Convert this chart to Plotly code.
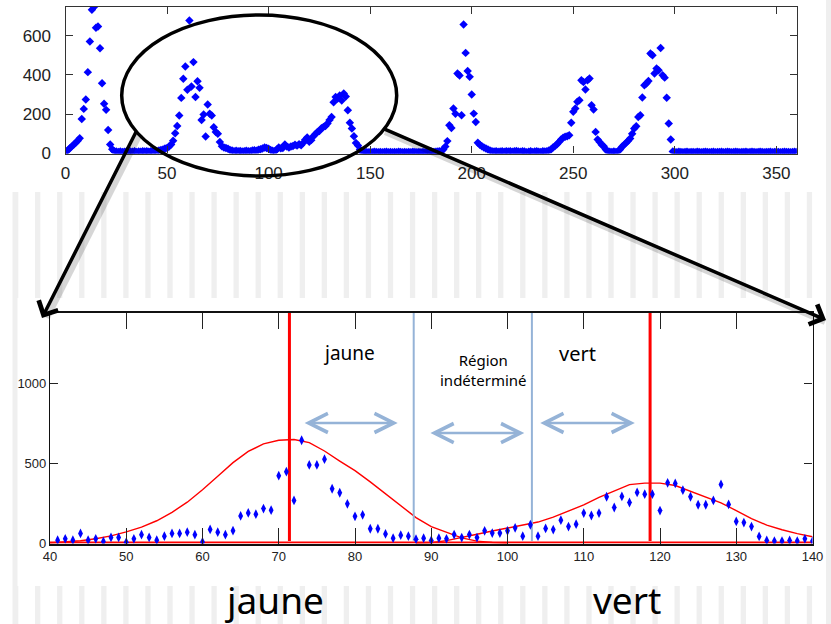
import plotly.graph_objects as go

W, H = 831, 624

# ---------------- data ----------------
top_x = list(range(0, 361))
top_counts = (
    [7, 15, 25, 35, 45, 55, 65, 78, 176, 227, 275, 414, 570, 731, 745, 640, 646, 536, 358, 253,
     222, 120, 46, 22, 12, 10, 8, 10, 8, 9, 10, 8, 10, 9, 11, 8, 10, 9, 12, 10,
     11, 9, 12, 11, 14, 12, 15, 18, 20, 25, 28, 36, 46, 65, 103, 140, 193, 283, 380, 443,
     324, 677, 341, 465, 287, 368, 334, 171, 198, 86, 249, 202, 193, 134, 109, 100, 59, 37, 30, 28,
     24, 18, 15, 12, 14, 11, 13, 10, 12, 14, 11, 12, 15, 17, 14, 19, 22, 25, 30, 28,
     24, 18, 14, 12, 20, 30, 26, 28, 46, 35, 30, 36, 38, 45, 40, 47, 42, 54, 70, 81,
     60, 68, 88, 98, 110, 115, 128, 135, 140, 153, 170, 186, 261, 287, 280, 295, 270, 305, 290, 220,
     156, 127, 88, 54, 41, 20, 8, 7, 8, 6, 8, 7, 9, 8, 7, 8, 6, 8, 9, 7,
     8, 6, 8, 7, 9, 8, 7, 8, 6, 8, 7, 9, 8, 7, 8, 6, 8, 7, 9, 8,
     10, 8, 9, 10, 12, 12, 20, 35, 63, 144, 130, 229, 202, 407, 397, 195, 656, 512, 420, 390,
     300, 203, 160, 55, 45, 37, 30, 25, 20, 15, 12, 10, 12, 9, 10, 12, 9, 11, 10, 12,
     9, 11, 13, 10, 9, 12, 10, 6, 9, 11, 8, 10, 12, 9, 8, 11, 10, 12, 15, 20,
     30, 38, 47, 59, 71, 80, 85, 88, 93, 156, 212, 229, 263, 271, 373, 364, 326, 373, 382, 246,
     224, 110, 71, 59, 45, 37, 20, 12, 9, 8, 10, 8, 12, 20, 34, 45, 54, 65, 76, 101,
     127, 139, 186, 195, 285, 347, 356, 369, 509, 500, 407, 432, 424, 537, 398, 386, 284, 153, 71, 10,
     8, 7, 9, 8, 7, 8, 9, 7, 8, 8, 7, 9, 8, 7, 8, 9, 8, 7, 8, 9,
     7, 8, 8, 9, 7, 8, 9, 8, 7, 8, 9, 8, 7, 8, 8, 9, 7, 8, 9, 8,
     7, 8, 9, 8, 7, 8, 8, 9, 7, 8, 9, 8, 7, 8, 9, 8, 8, 7, 8, 9,
     8]
)
top_xticks = [0, 50, 100, 150, 200, 250, 300, 350]
top_yticks = [0, 200, 400, 600]

bottom_x = list(range(41, 141))
bottom_counts = [
    21, 29, 21, 63, 21, 29, 13, 38, 38, 8,
    29, 55, 38, 21, 46, 63, 63, 71, 55, 10,
    88, 71, 55, 80, 172, 191, 183, 218, 208, 424,
    449, 269, 645, 491, 491, 527, 342, 317, 248, 170,
    179, 92, 92, 60, 33, 52, 46, 27, 33, 19,
    33, 29, 56, 37, 56, 37, 79, 65, 65, 79,
    98, 46, 117, 46, 94, 87, 146, 106, 121, 190,
    175, 190, 292, 225, 294, 256, 319, 308, 308, 206,
    379, 375, 333, 292, 242, 242, 269, 369, 244, 138,
    131, 106, 44, 19, 15, 15, 19, 15, 29, 15]
bottom_xticks = [40, 50, 60, 70, 80, 90, 100, 110, 120, 130, 140]
bottom_yticks = [0, 500, 1000]

fit_jaune_x = list(range(40, 101, 2))
fit_jaune_y = [3, 8, 17, 30, 48, 73, 102, 142, 195, 258, 336, 420, 505, 575, 622, 645,
               650, 630, 578, 515, 455, 385, 310, 240, 162, 105, 68, 35, 15, 6, 2]
fit_vert_x = list(range(88, 141, 2))
fit_vert_y = [2, 5, 18, 36, 58, 78, 96, 113, 134, 165, 202, 241, 288, 330, 368, 377,
              377, 362, 325, 292, 254, 206, 156, 115, 86, 62, 42]
baseline_x = [40, 140]
baseline_y = [6, 6]

peak_lines_x = [71.4, 118.7]      # red: centre of each class
bound_lines_x = [87.7, 103.2]     # light blue: class boundaries
vline_span = [15, 1440]

zone_arrows = [(73.2, 85.6, 753), (89.7, 102.2, 690), (104.1, 116.7, 753)]

# ---------------- helpers ----------------
def px(x):
    return x / W

def py(y):
    return 1 - y / H

BLUE = "#0000ff"
RED = "#ff0000"
LBLUE = "#95b3d7"
GREY = "#efefef"

fig = go.Figure()

# top chart
fig.add_trace(go.Scatter(
    x=top_x, y=top_counts, mode="markers",
    marker=dict(symbol="diamond", size=6.5, color=BLUE, line=dict(width=0)),
    xaxis="x", yaxis="y", showlegend=False, hoverinfo="skip"))

# bottom chart
fig.add_trace(go.Scatter(x=baseline_x, y=baseline_y, mode="lines",
                         line=dict(color=RED, width=2), xaxis="x2", yaxis="y2",
                         showlegend=False, hoverinfo="skip"))
fig.add_trace(go.Scatter(x=fit_jaune_x, y=fit_jaune_y, mode="lines",
                         line=dict(color=RED, width=1.4), xaxis="x2", yaxis="y2",
                         showlegend=False, hoverinfo="skip"))
fig.add_trace(go.Scatter(x=fit_vert_x, y=fit_vert_y, mode="lines",
                         line=dict(color=RED, width=1.4), xaxis="x2", yaxis="y2",
                         showlegend=False, hoverinfo="skip"))
for xv in bound_lines_x:
    fig.add_trace(go.Scatter(x=[xv, xv], y=vline_span, mode="lines",
                             line=dict(color=LBLUE, width=2), xaxis="x2", yaxis="y2",
                             showlegend=False, hoverinfo="skip"))
for xv in peak_lines_x:
    fig.add_trace(go.Scatter(x=[xv, xv], y=vline_span, mode="lines",
                             line=dict(color=RED, width=3), xaxis="x2", yaxis="y2",
                             showlegend=False, hoverinfo="skip"))
fig.add_trace(go.Scatter(
    x=bottom_x, y=bottom_counts, mode="markers",
    marker=dict(symbol="diamond-tall", size=7, color=BLUE, line=dict(width=0)),
    xaxis="x2", yaxis="y2", showlegend=False, hoverinfo="skip"))

# ---------------- background decoration ----------------
shapes = []
for k in range(37):
    x0 = 13 + 22.05 * k
    for (ya, yb) in [(192, 298), (586, 624)]:
        shapes.append(dict(type="rect", xref="paper", yref="paper",
                           x0=px(x0), x1=px(x0 + 5.3), y0=py(yb), y1=py(ya),
                           fillcolor=GREY, line=dict(width=0), layer="below"))
shapes.append(dict(type="rect", xref="paper", yref="paper", x0=px(12.5), x1=px(17.5),
                   y0=py(624), y1=py(192), fillcolor=GREY, line=dict(width=0), layer="below"))
shapes.append(dict(type="rect", xref="paper", yref="paper", x0=px(826), x1=px(831),
                   y0=0, y1=1, fillcolor=GREY, line=dict(width=0), layer="below"))

# arrow shadows
for (x0, y0, x1, y1) in [(137, 130, 44, 314), (382, 128, 822, 318)]:
    shapes.append(dict(type="line", xref="paper", yref="paper",
                       x0=px(x0 + 3), y0=py(y0 + 4), x1=px(x1 + 3), y1=py(y1 + 4),
                       line=dict(color="rgba(0,0,0,0.16)", width=6)))

# ellipse
shapes.append(dict(type="circle", xref="paper", yref="paper",
                   x0=px(121.7), x1=px(396.7), y0=py(176), y1=py(15),
                   line=dict(color="black", width=3.5), fillcolor="rgba(0,0,0,0)"))

annotations = []
# black zoom arrows (pixel offsets)
for (hx, hy, tx, ty) in [(42, 318, 137, 130), (826, 320, 382, 128)]:
    annotations.append(dict(x=px(hx), y=py(hy), xref="paper", yref="paper",
                            ax=tx - hx, ay=ty - hy, text="", showarrow=True,
                            arrowhead=4, arrowsize=1.2, arrowwidth=3.5,
                            arrowcolor="black", standoff=0))

# light blue double arrows
for (xa, xb, yv) in zone_arrows:
    annotations.append(dict(x=xb, y=yv, xref="x2", yref="y2", ax=xa, ay=yv,
                            axref="x2", ayref="y2", text="", showarrow=True,
                            arrowside="end+start", arrowhead=5, startarrowhead=5,
                            arrowsize=1.5, startarrowsize=1.5, arrowwidth=2.5,
                            arrowcolor=LBLUE, standoff=0, startstandoff=0))

TEXT_FONT = "Noto Sans, DejaVu Sans, sans-serif"
annotations += [
    dict(x=79.2, y=1190, xref="x2", yref="y2", text="jaune", showarrow=False,
         xanchor="center", yanchor="middle",
         font=dict(family=TEXT_FONT, size=19, color="black")),
    dict(x=109.2, y=1190, xref="x2", yref="y2", text="vert", showarrow=False,
         xanchor="center", yanchor="middle",
         font=dict(family=TEXT_FONT, size=20, color="black")),
    dict(x=96.9, y=1084, xref="x2", yref="y2", text="Région<br>indéterminé",
         xanchor="center", yanchor="middle",
         showarrow=False, font=dict(family=TEXT_FONT, size=15, color="black")),
    dict(x=px(274), y=py(599), xref="paper", yref="paper", text="jaune",
         xanchor="center", yanchor="middle",
         showarrow=False, font=dict(family=TEXT_FONT, size=37, color="black")),
    dict(x=px(627), y=py(599), xref="paper", yref="paper", text="vert",
         xanchor="center", yanchor="middle",
         showarrow=False, font=dict(family=TEXT_FONT, size=37, color="black")),
]

TICK_FONT = dict(family="Liberation Sans, Arial, sans-serif", size=17, color="#222")
NARROW_FONT = dict(family="Liberation Sans Narrow, Arial Narrow, Liberation Sans, sans-serif",
                   size=13, color="#222")

fig.update_layout(
    width=W, height=H,
    margin=dict(l=0, r=0, t=0, b=0, pad=0, autoexpand=False),
    paper_bgcolor="white", plot_bgcolor="white",
    shapes=shapes, annotations=annotations,
    xaxis=dict(domain=[px(65.5), px(796.7)], anchor="y", range=[0, 360],
               tickvals=top_xticks, ticks="inside", ticklen=7, tickcolor="#333",
               showline=True, linecolor="#333", linewidth=1.2, mirror="ticks",
               showgrid=False, zeroline=False, tickfont=TICK_FONT, ticklabelstandoff=4,
               automargin=False),
    yaxis=dict(domain=[py(153.5), py(6.7)], anchor="x", range=[0, 747],
               tickvals=top_yticks, ticks="inside", ticklen=7, tickcolor="#333",
               showline=True, linecolor="#333", linewidth=1.2, mirror="ticks",
               showgrid=False, zeroline=False, tickfont=TICK_FONT, ticklabelstandoff=10,
               automargin=False),
    xaxis2=dict(domain=[px(50), px(812.5)], anchor="y2", range=[40, 140],
                tickvals=bottom_xticks, ticks="inside", ticklen=16, tickcolor="#222",
                showline=True, linecolor="#111", linewidth=1.5, mirror="ticks",
                showgrid=False, zeroline=False, tickfont=NARROW_FONT, ticklabelstandoff=0,
                automargin=False),
    yaxis2=dict(domain=[py(543.5), py(313)], anchor="x2", range=[0, 1440],
                tickvals=bottom_yticks, ticks="inside", ticklen=8, tickcolor="#222",
                showline=True, linecolor="#111", linewidth=1.2, mirror="ticks",
                showgrid=False, zeroline=False, tickfont=NARROW_FONT, ticklabelstandoff=0,
                automargin=False),
)

# remove the browser's default page margin so the figure sits at the window's corner
page_fix = ("document.body.style.margin='0';document.body.style.padding='0';"
            "document.documentElement.style.overflow='hidden';")

fig.write_html("out.html", post_script=page_fix, config={"displayModeBar": False})
